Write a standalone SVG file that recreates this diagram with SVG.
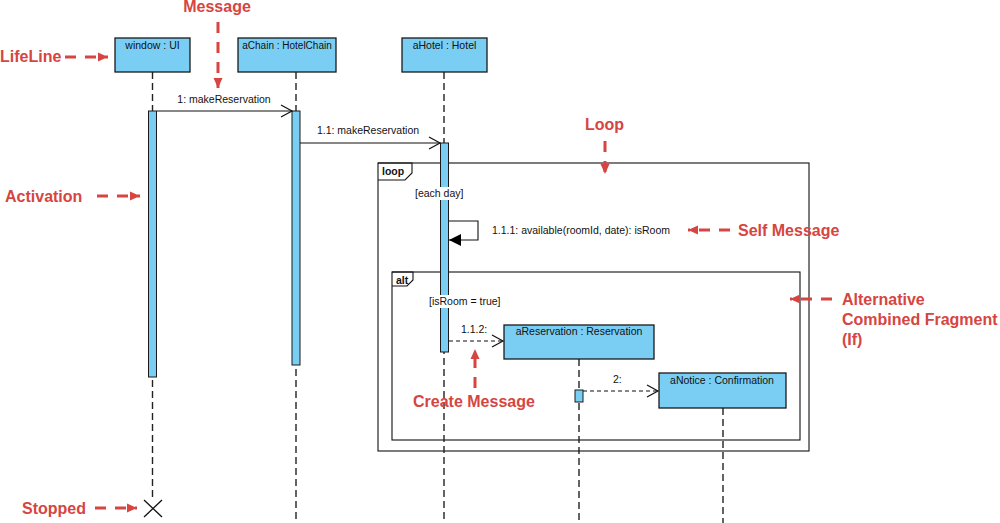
<svg xmlns="http://www.w3.org/2000/svg" width="1000" height="523" viewBox="0 0 1000 523">
<style>
.head{fill:#7acef4;stroke:#1a1a1a;stroke-width:1.3}
.act{fill:#7acef4;stroke:#1a1a1a;stroke-width:1}
.life{stroke:#222;stroke-width:1.4;stroke-dasharray:7,4;fill:none}
.frame{fill:none;stroke:#111;stroke-width:1.1}
.t{font-family:"Liberation Sans",Arial,sans-serif;font-size:10.5px;fill:#111}
.tb{font-family:"Liberation Sans",Arial,sans-serif;font-size:10.5px;font-weight:bold;fill:#111}
.msg{stroke:#111;stroke-width:1.1;fill:none}
.dash{stroke-dasharray:4,3}
.ann{font-family:"Liberation Sans",Arial,sans-serif;font-size:16px;font-weight:bold;fill:#d64541}
.aline{stroke:#d64541;stroke-width:3;stroke-dasharray:11,9;fill:none}
.bg{fill:#fff}
</style>
<defs>
<marker id="open" markerWidth="14" markerHeight="14" refX="12" refY="7" orient="auto" markerUnits="userSpaceOnUse">
<path d="M1,1 L12,7 L1,13" fill="none" stroke="#111" stroke-width="1.2"/>
</marker>
<marker id="filled" markerWidth="14" markerHeight="14" refX="13" refY="7" orient="auto" markerUnits="userSpaceOnUse">
<path d="M1,1 L13,7 L1,13 Z" fill="#000"/>
</marker>
<marker id="red" markerWidth="12" markerHeight="12" refX="10" refY="6" orient="auto" markerUnits="userSpaceOnUse">
<path d="M0,1.5 L10,6 L0,10.5 Z" fill="#d64541"/>
</marker>
</defs>

<g id="frames">
<rect class="frame" x="378" y="163" width="431" height="288"/>
<path class="frame" d="M378,163 H412 V173 L405,180 H378"/>
<text class="tb" x="382" y="175">loop</text>
<rect class="frame" x="392" y="272" width="408" height="168"/>
<path class="frame" d="M392,272 H413 V280 L407,286 H392"/>
<text class="tb" x="396" y="284">alt</text>
</g>

<g id="lifeline-window">
<line class="life" x1="152.5" y1="72" x2="152.5" y2="500"/>
<rect class="head" x="115" y="38" width="75" height="34"/>
<text class="t" x="152.5" y="49" text-anchor="middle">window : UI</text>
<rect class="act" x="148.5" y="111" width="8" height="266"/>
<path d="M144,500 L162,517 M162,500 L144,517" stroke="#111" stroke-width="1.3"/>
</g>

<g id="lifeline-aChain">
<line class="life" x1="296" y1="72" x2="296" y2="523"/>
<rect class="head" x="238" y="38" width="98" height="34"/>
<text class="t" x="287" y="49" text-anchor="middle" style="font-size:10px">aChain : HotelChain</text>
<rect class="act" x="292" y="111" width="8" height="254"/>
</g>

<g id="lifeline-aHotel">
<line class="life" x1="444" y1="72" x2="444" y2="523"/>
<rect class="head" x="402" y="38" width="85" height="34"/>
<text class="t" x="444.5" y="49" text-anchor="middle">aHotel : Hotel</text>
<rect class="act" x="440.5" y="143" width="8" height="209"/>
</g>

<g id="lifeline-aReservation">
<line class="life" x1="579" y1="359" x2="579" y2="523"/>
<rect class="head" x="504" y="325" width="150" height="34"/>
<text class="t" x="579" y="335" text-anchor="middle">aReservation : Reservation</text>
<rect class="act" x="575" y="390" width="8" height="12"/>
</g>

<g id="lifeline-aNotice">
<line class="life" x1="723" y1="408" x2="723" y2="523"/>
<rect class="head" x="659" y="373" width="127" height="35"/>
<text class="t" x="722" y="384" text-anchor="middle">aNotice : Confirmation</text>
</g>

<g id="guards">
<rect class="bg" x="413" y="187" width="54" height="13"/>
<text class="t" x="415" y="197">[each day]</text>
<rect class="bg" x="427" y="295" width="78" height="13"/>
<text class="t" x="429" y="305">[isRoom = true]</text>
</g>

<g id="connectors">
<line class="msg" x1="157" y1="111" x2="292" y2="111" marker-end="url(#open)"/>
<text class="t" x="224" y="103" text-anchor="middle">1: makeReservation</text>
<line class="msg" x1="300" y1="143" x2="440" y2="143" marker-end="url(#open)"/>
<text class="t" x="368" y="134" text-anchor="middle">1.1: makeReservation</text>
<path class="msg" d="M449,221 H478 V240 H449" marker-end="url(#filled)"/>
<text class="t" x="492" y="234">1.1.1: available(roomId, date): isRoom</text>
<line class="msg dash" x1="449" y1="341" x2="503" y2="341" marker-end="url(#open)"/>
<text class="t" x="461" y="333">1.1.2:</text>
<line class="msg dash" x1="583" y1="391" x2="658" y2="391" marker-end="url(#open)"/>
<text class="t" x="613" y="383">2:</text>
</g>

<g id="annotations">
<text class="ann" x="217" y="12" text-anchor="middle">Message</text>
<line class="aline" x1="218" y1="22" x2="218" y2="88" marker-end="url(#red)"/>
<text class="ann" x="0" y="62">LifeLine</text>
<line class="aline" x1="65" y1="57" x2="108" y2="57" marker-end="url(#red)"/>
<text class="ann" x="5" y="202">Activation</text>
<line class="aline" x1="97" y1="196" x2="140" y2="196" marker-end="url(#red)"/>
<text class="ann" x="22" y="514">Stopped</text>
<line class="aline" x1="95" y1="508" x2="137" y2="508" marker-end="url(#red)"/>
<text class="ann" x="585" y="130">Loop</text>
<line class="aline" x1="605" y1="141" x2="605" y2="174" marker-end="url(#red)"/>
<text class="ann" x="738" y="236">Self Message</text>
<line class="aline" x1="730" y1="230" x2="688" y2="230" marker-end="url(#red)"/>
<text class="ann" x="842" y="305">Alternative</text>
<text class="ann" x="842" y="325">Combined Fragment</text>
<text class="ann" x="842" y="345">(If)</text>
<line class="aline" x1="832" y1="299" x2="790" y2="299" marker-end="url(#red)"/>
<text class="ann" x="413" y="407">Create Message</text>
<line class="aline" x1="475" y1="388" x2="475" y2="349" marker-end="url(#red)"/>
</g>
</svg>
